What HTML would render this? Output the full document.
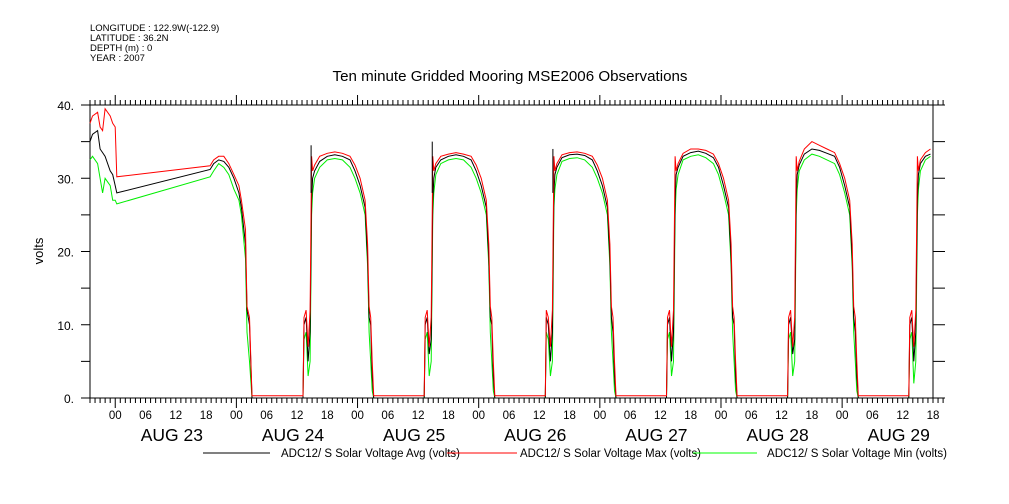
<!DOCTYPE html>
<html><head><meta charset="utf-8"><style>
body{margin:0;background:#fff;}
svg{display:block;font-family:"Liberation Sans",sans-serif;}
</style></head><body>
<svg id="chart" width="1009" height="504" viewBox="0 0 1009 504">
<g font-size="9.5" fill="#000">
<text x="90" y="31">LONGITUDE : 122.9W(-122.9)</text>
<text x="90" y="41">LATITUDE : 36.2N</text>
<text x="90" y="51">DEPTH (m) : 0</text>
<text x="90" y="61">YEAR : 2007</text>
</g>
<text x="510" y="81" text-anchor="middle" font-size="15" textLength="355" lengthAdjust="spacingAndGlyphs">Ten minute Gridded Mooring MSE2006 Observations</text>
<text transform="translate(43,251) rotate(-90)" text-anchor="middle" font-size="13">volts</text>
<g id="axes"></g>
<g id="series"></g>
<g font-size="11.5">
<line x1="203" y1="453" x2="270" y2="453" stroke="#000"/>
<text x="281" y="457" textLength="179" lengthAdjust="spacingAndGlyphs">ADC12/ S Solar Voltage Avg (volts)</text>
<line x1="447" y1="453" x2="517" y2="453" stroke="#f00"/>
<text x="520" y="457" textLength="181" lengthAdjust="spacingAndGlyphs">ADC12/ S Solar Voltage Max (volts)</text>
<line x1="693" y1="453" x2="757" y2="453" stroke="#0f0"/>
<text x="767" y="457" textLength="180" lengthAdjust="spacingAndGlyphs">ADC12/ S Solar Voltage Min (volts)</text>
</g>
</svg>
<script>
// hours since Aug 23 00:00
const times=[-5,-4.5,-3.5,-3,-2.5,-2,-1,-0.5,0,0.3,18.8,19.5,20.5,21.5,22.5,23.5,24.5,25,25.8,26.1,26.6,27.1,
37.2,37.4,37.8,38.2,38.6,38.9,39.1,39.5,40.5,42,43.5,45,46.5,47.5,48.5,49.5,50,50.3,50.6,50.9,51.2,
61.2,61.4,61.8,62.2,62.6,62.9,63.1,63.5,64.5,66,67.5,69,70.5,71.5,72.5,73.5,74,74.3,74.6,74.9,75.2,
85.2,85.4,85.8,86.2,86.6,86.9,87.1,87.5,88.5,90,91.5,93,94.5,95.5,96.5,97.5,98,98.3,98.6,98.9,99.2,
109.2,109.4,109.8,110.2,110.6,110.9,111.1,111.5,112.5,114,115.5,117,118.5,119.5,120.5,121.5,122,122.3,122.6,122.9,123.2,
133.2,133.4,133.8,134.2,134.6,134.9,135.1,135.5,136.5,138,139.5,141,142.5,143.5,144.5,145.5,146,146.3,146.6,146.9,147.2,
157.2,157.4,157.8,158.2,158.6,158.9,159.1,159.5,160.5,161.5];
const avgValues=[35,36,36.5,34,33.5,33,31,30.5,29,28,31.2,32,32.5,32.3,31.5,30,28,26,21,12,10,0,
0,10,11,5,9,27,30,31,32.3,33,33.2,33,32.5,31,29,26,19,11,10,3,0,
0,10,11,6,8,27,30,31.5,32.5,33,33.2,33,32.5,31,29,26,19,11,10,3,0,
0,11,10,5,9,28,30.5,31.5,32.8,33.2,33.3,33.1,32.5,31,29,26,19,11,9,3,0,
0,10,11,5,9,27,30.5,31.5,33,33.5,33.7,33.4,32.8,31.5,29,26,19,11,10,3,0,
0,10,11,6,8,27,30.5,31.8,33.3,34,33.8,33.4,33,31.5,29,26,19,11,9,3,0,
0,10,11,5,9,27,30.5,32,33,33.3];
const maxValues=[37.5,38.5,39,37,36.5,39.5,38.5,37.5,37,30.2,31.7,32.5,33,33,32,30.5,29,27,23,12.5,11,0.3,
0.3,11,12,7,12,33,31,31.8,33,33.4,33.6,33.4,33,31.8,30,27,21,12.5,11,5,0.3,
0.3,11,12,7,11,33,31,32,33,33.3,33.5,33.3,33,31.8,30,27,21,12.5,11,5,0.3,
0.3,12,11,7,12,33,31,32,33.2,33.5,33.6,33.4,33,31.8,30,27,21,12.5,11,5,0.3,
0.3,11,12,7,12,33,31,32,33.4,34,34,33.8,33.3,32,30,27,21,12.5,11,5,0.3,
0.3,11,12,7,11,33,31,32.3,34,35,34.5,34,33.5,32,30,27,21,12.5,11,5,0.3,
0.3,11,12,7,12,33,31,32.5,33.5,34];
const minValues=[32.5,33,32,30,28,30,29,27,27,26.5,30.2,31,32,31.5,30.5,28.5,27,25,19,9,5,0,
0,8,9,3,5,25,28,30,31.5,32.5,32.7,32.5,31.5,30,28,25,18,9,5,1,0,
0,8,9,3,5,25,28,30.5,32,32.5,32.7,32.5,31.5,30,28,25,18,9,5,1,0,
0,9,8,3,5,26,28.5,30.5,32.3,32.7,32.8,32.5,31.5,30,28,25,18,9,5,1,0,
0,8,9,3,5,25,28.5,30.5,32.5,33,33.2,32.8,32,30.5,28,25,18,9,5,1,0,
0,8,9,3,5,25,28.5,31,32.5,33.3,33,32.5,32,30.5,28,25,18,9,5,1,0,
0,8,9,2,5,25,28.5,31,32.5,33];
const spikeTimes=[38.8,62.8,86.7];
const spikeValues=[34.5,35,34];
const yTicks=[0,10,20,30,40];
const hourLabels=["00","06","12","18"];
const dayLabels=["AUG 23","AUG 24","AUG 25","AUG 26","AUG 27","AUG 28","AUG 29"];

const X0=90,X1=933,Y0=398,Y1=105,T0=-5,T1=162;
const xs=t=>X0+(t-T0)/(T1-T0)*(X1-X0);
const ys=v=>Y0-(v/40)*(Y0-Y1);
const NS="http://www.w3.org/2000/svg";
function mk(tag,attrs,parent){const e=document.createElementNS(NS,tag);for(const k in attrs)e.setAttribute(k,attrs[k]);parent.appendChild(e);return e;}
const axes=document.getElementById('axes');
let frame=mk('path',{d:`M${X0},${Y1}V${Y0}M${X0},${Y0}H943M${X0},${Y1}H943M${X1},${Y1}V${Y0}`,stroke:'#000',fill:'none','stroke-width':1},axes);


for(let v=0;v<=40;v+=5){
  const y=ys(v);
  let t=mk('path',{d:`M${X0-9},${y}H${X0}M${X1},${y}H${X1+12}`,stroke:'#000'},axes);
  
  
}
yTicks.forEach(v=>{
  let t=mk('text',{x:X0-16,y:ys(v)+5,'text-anchor':'end','font-size':12},axes);
  t.textContent=v+'.';
  
  
});
for(let h=-5;h<=164;h++){
  const x=xs(h);
  const major=((h%24)+24)%24===0;
  const len=major?10:5;
  let t=mk('path',{d:`M${x},${Y0}v${len}M${x},${Y1}v${-len}`,stroke:'#000'},axes);
  
  
  if(h>=0&&h%6===0&&h<=162){
    let l=mk('text',{x:x,y:419,'text-anchor':'middle','font-size':11.5},axes);
    l.textContent=hourLabels[(h%24)/6];
    
    
  }
}
dayLabels.forEach((d,i)=>{
  let l=mk('text',{x:xs(i*24+12)-4,y:441,'text-anchor':'middle','font-size':17.5},axes);
  l.textContent=d;
  
  
});
const sg=document.getElementById('series');
function line(vals,color,name){
  const pts=times.map((t,i)=>xs(t).toFixed(1)+','+ys(vals[i]).toFixed(1)).join(' ');
  let p=mk('polyline',{points:pts,fill:'none',stroke:color,'stroke-width':1},sg);
  
  
}
line(minValues,'#00ee00','series-min');
line(avgValues,'#000','series-avg');
line(maxValues,'#f00','series-max');
spikeTimes.forEach((t,i)=>{
  let s=mk('line',{x1:xs(t),x2:xs(t),y1:ys(28),y2:ys(spikeValues[i]),stroke:'#000'},sg);
  
  
});
</script>
</body></html>
